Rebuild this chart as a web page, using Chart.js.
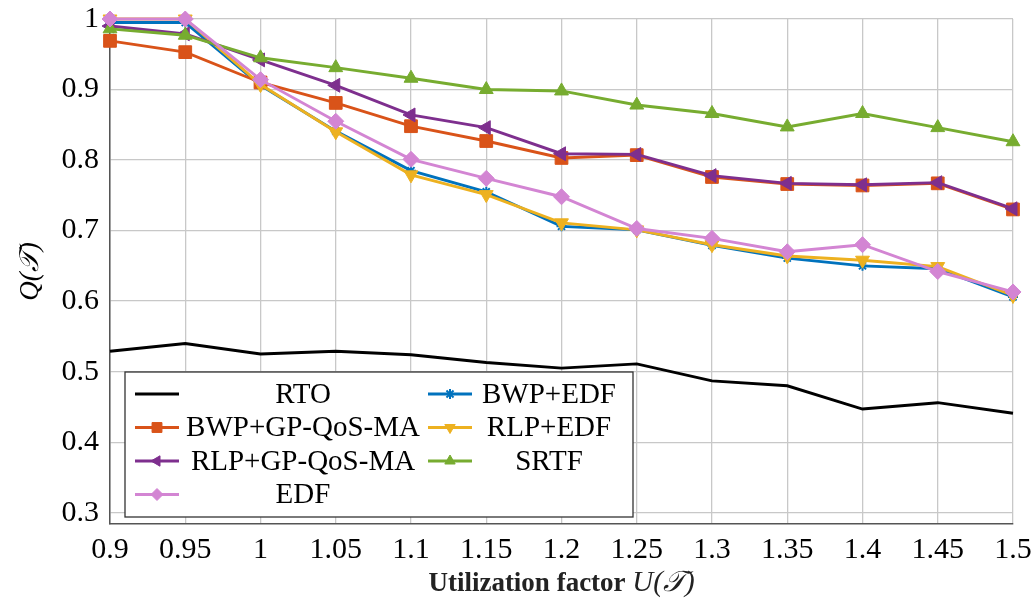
<!DOCTYPE html>
<html>
<head>
<meta charset="utf-8">
<script src="https://cdn.jsdelivr.net/npm/chart.js@4.4.1/dist/chart.umd.min.js"></script>
<style>
  html, body { margin: 0; padding: 0; background: #fff; }
  #wrap { width: 1036px; height: 599px; }
</style>
</head>
<body>
<div id="wrap"><canvas id="chart" width="1036" height="599"></canvas></div>
<script>
// utilization factor categories
const xLabels = ['0.9', '0.95', '1', '1.05', '1.1', '1.15', '1.2', '1.25', '1.3', '1.35', '1.4', '1.45', '1.5'];
const yTicks = [0.3, 0.4, 0.5, 0.6, 0.7, 0.8, 0.9, 1];

// series, in legend order (row by row)
const rto    = [0.529, 0.540, 0.525, 0.529, 0.524, 0.513, 0.505, 0.511, 0.487, 0.480, 0.447, 0.456, 0.441];
const bwpEdf = [0.995, 0.995, 0.906, 0.841, 0.785, 0.755, 0.706, 0.701, 0.679, 0.661, 0.650, 0.646, 0.606];
const bwpGp  = [0.969, 0.953, 0.910, 0.881, 0.848, 0.827, 0.803, 0.807, 0.776, 0.766, 0.764, 0.767, 0.730];
const rlpEdf = [1.000, 1.000, 0.907, 0.840, 0.779, 0.751, 0.711, 0.701, 0.680, 0.664, 0.658, 0.649, 0.608];
const rlpGp  = [0.990, 0.979, 0.942, 0.906, 0.864, 0.846, 0.809, 0.808, 0.778, 0.767, 0.765, 0.768, 0.731];
const srtf   = [0.986, 0.977, 0.945, 0.931, 0.916, 0.900, 0.898, 0.878, 0.866, 0.847, 0.866, 0.846, 0.826];
const edf    = [1.000, 1.000, 0.914, 0.855, 0.801, 0.774, 0.748, 0.703, 0.689, 0.670, 0.680, 0.642, 0.613];

const seriesNames = ['RTO', 'BWP+EDF', 'BWP+GP-QoS-MA', 'RLP+EDF', 'RLP+GP-QoS-MA', 'SRTF', 'EDF'];

const serif = "'Liberation Serif', 'DejaVu Serif', serif";

function makeSet(label, data, color, style, radius, rotation, legendRadius) {
    return {
        label: label,
        data: data,
        borderColor: color,
        backgroundColor: color,
        borderWidth: 2.9,
        pointStyle: style,
        pointRadius: style ? radius : 0,
        pointRotation: rotation || 0,
        pointBorderWidth: style === 'star' ? 2 : 1,
        pointBackgroundColor: color,
        pointBorderColor: color,
        legendRadius: legendRadius,
        tension: 0,
        clip: false
    };
}

const datasets = [
    makeSet(seriesNames[0], rto, '#000000', false, 0),
    makeSet(seriesNames[1], bwpEdf, '#0072BD', 'star', 5, 0, 5),
    makeSet(seriesNames[2], bwpGp, '#D95319', 'rect', 9, 0, 7),
    makeSet(seriesNames[3], rlpEdf, '#EDB120', 'triangle', 8, 180, 6),
    makeSet(seriesNames[4], rlpGp, '#7E2F8E', 'triangle', 8, 270, 6),
    makeSet(seriesNames[5], srtf, '#77AC30', 'triangle', 8, 0, 6),
    makeSet(seriesNames[6], edf, '#D385D3', 'rectRot', 8, 0, 6)
];
// later series drawn on top, like the original plot
datasets.forEach((d, i) => { d.order = datasets.length - 1 - i; });

// boxed two-column legend drawn inside the plot
const boxLegend = {
    id: 'boxLegend',
    afterDraw(chart) {
        const ctx = chart.ctx;
        const area = chart.chartArea;
        const left = area.left + 15, top = 372, width = 508, height = 145;
        ctx.save();
        ctx.fillStyle = '#ffffff';
        ctx.fillRect(left, top, width, height);
        ctx.strokeStyle = '#333333';
        ctx.lineWidth = 1.3;
        ctx.strokeRect(left, top, width, height);

        const cols = [{ sample: left + 32, text: left + 178 }, { sample: left + 325, text: left + 424 }];
        const rowH = 33.5, firstRow = top + 22;
        ctx.font = '29px ' + serif;
        ctx.textAlign = 'center';
        ctx.textBaseline = 'middle';
        chart.data.datasets.forEach((ds, i) => {
            const c = cols[i % 2];
            const y = firstRow + Math.floor(i / 2) * rowH;
            ctx.strokeStyle = ds.borderColor;
            ctx.lineWidth = 2.9;
            ctx.beginPath();
            ctx.moveTo(c.sample - 22, y);
            ctx.lineTo(c.sample + 22, y);
            ctx.stroke();
            if (ds.pointStyle) {
                ctx.fillStyle = ds.pointBackgroundColor;
                ctx.strokeStyle = ds.pointBorderColor;
                ctx.lineWidth = ds.pointBorderWidth;
                Chart.helpers.drawPoint(ctx, {
                    pointStyle: ds.pointStyle,
                    rotation: ds.pointRotation,
                    radius: ds.legendRadius,
                    borderWidth: ds.pointBorderWidth
                }, c.sample, y);
            }
            ctx.fillStyle = '#000000';
            ctx.fillText(ds.label, c.text, y + 1);
        });
        ctx.restore();
    }
};

// axis titles: bold words with an italic math part
const axisTitles = {
    id: 'axisTitles',
    afterDraw(chart) {
        const ctx = chart.ctx;
        const area = chart.chartArea;
        ctx.save();
        ctx.fillStyle = '#222222';
        ctx.textBaseline = 'alphabetic';
        const bold = 'bold 27px ' + serif;
        const ital = 'italic 29px ' + serif;
        const part1 = 'Utilization factor ';
        const part2 = 'U(𝒯)';
        ctx.font = bold;
        const w1 = ctx.measureText(part1).width;
        ctx.font = ital;
        const w2 = ctx.measureText(part2).width;
        const cx = (area.left + area.right) / 2;
        let x = cx - (w1 + w2) / 2;
        ctx.textAlign = 'left';
        ctx.font = bold;
        ctx.fillText(part1, x, 591);
        ctx.font = ital;
        ctx.fillText(part2, x + w1, 591);

        ctx.translate(38, (area.top + area.bottom) / 2);
        ctx.rotate(-Math.PI / 2);
        ctx.textAlign = 'center';
        ctx.font = 'italic 27px ' + serif;
        ctx.fillStyle = '#000000';
        ctx.fillText('Q(𝒯)', 0, 0);
        ctx.restore();
    }
};

new Chart(document.getElementById('chart'), {
    type: 'line',
    data: { labels: xLabels, datasets: datasets },
    plugins: [boxLegend, axisTitles],
    options: {
        responsive: false,
        animation: false,
        layout: { padding: { top: 19, right: 23, left: 0, bottom: 0 } },
        plugins: {
            legend: { display: false },
            tooltip: { enabled: false }
        },
        scales: {
            x: {
                type: 'category',
                offset: false,
                grid: { color: '#c8c8c8', lineWidth: 1.3, drawTicks: false },
                border: { color: '#555555', width: 1.5 },
                ticks: {
                    color: '#000000',
                    font: { family: serif, size: 30 },
                    padding: 8,
                    maxRotation: 0,
                    autoSkip: false
                },
                afterFit(scale) {
                    scale.height = 75;
                    scale.paddingLeft = 0;
                    scale.paddingRight = 0;
                }
            },
            y: {
                min: 0.284,
                max: 1,
                grid: { color: '#c8c8c8', lineWidth: 1.3, drawTicks: false },
                border: { color: '#555555', width: 1.5 },
                afterBuildTicks(scale) { scale.ticks = yTicks.map(v => ({ value: v })); },
                ticks: {
                    color: '#000000',
                    font: { family: serif, size: 30 },
                    padding: 11,
                    callback: v => String(Number(v.toFixed(2)))
                },
                afterFit(scale) {
                    scale.width = 110;
                    scale.paddingTop = 0;
                    scale.paddingBottom = 0;
                }
            }
        }
    }
});
</script>
</body>
</html>
